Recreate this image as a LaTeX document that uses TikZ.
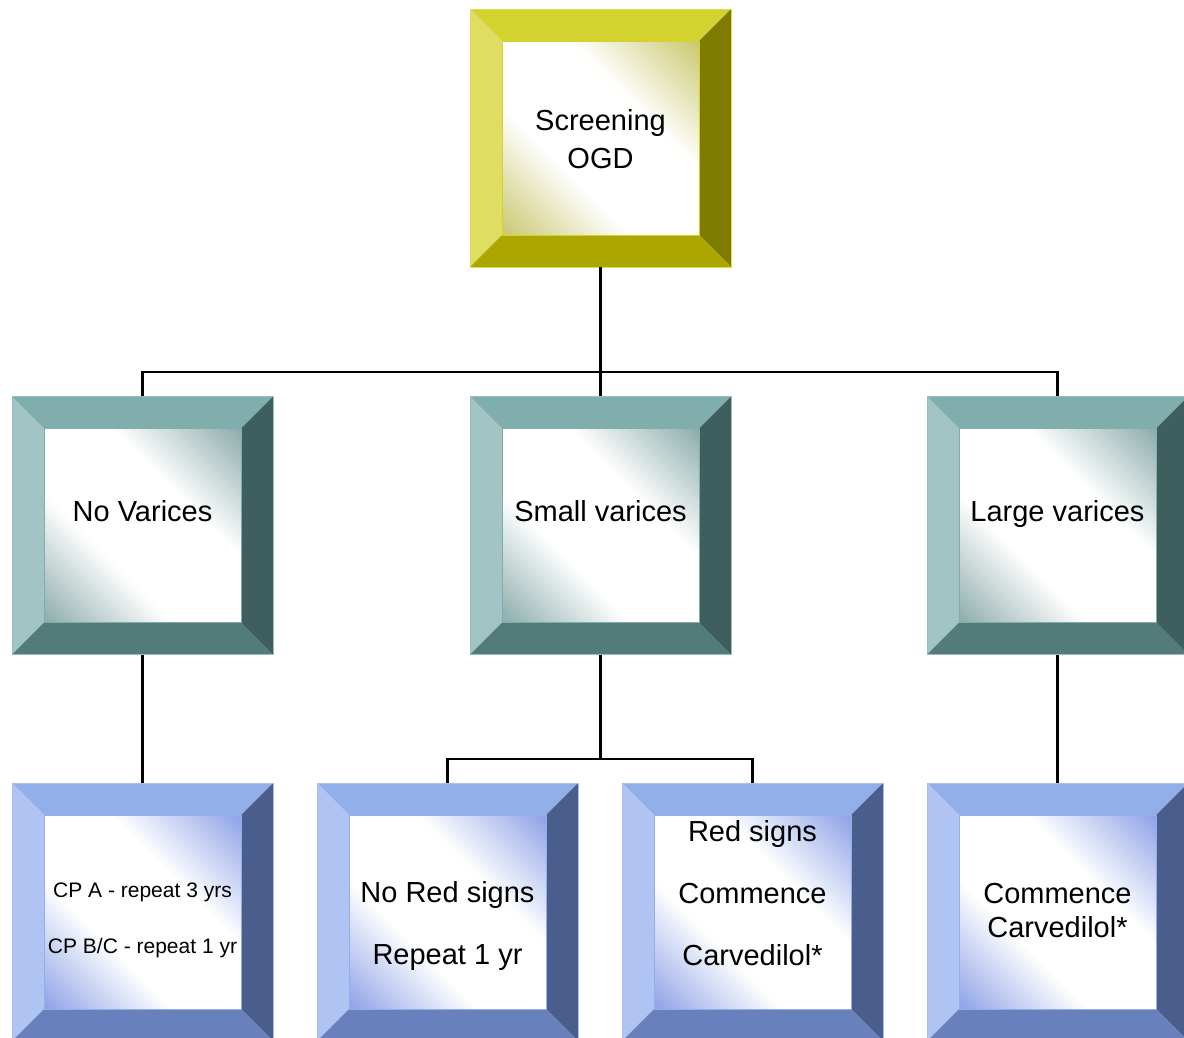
\documentclass[tikz,border=0pt]{standalone}
\usepackage{fontspec}
\setmainfont{Liberation Sans}
\definecolor{yT}{HTML}{D4D22E}
\definecolor{yL}{HTML}{E0DE62}
\definecolor{yR}{HTML}{7F7A00}
\definecolor{yB}{HTML}{ABA600}
\definecolor{yI}{HTML}{C4C260}
\definecolor{gT}{HTML}{80AEAC}
\definecolor{gL}{HTML}{A2C4C4}
\definecolor{gR}{HTML}{3F5F5E}
\definecolor{gB}{HTML}{527B7A}
\definecolor{gI}{HTML}{7FA3A2}
\definecolor{bT}{HTML}{94AEEA}
\definecolor{bL}{HTML}{B0C4F3}
\definecolor{bR}{HTML}{4A5E8E}
\definecolor{bB}{HTML}{6880BC}
\definecolor{bI}{HTML}{8098E4}
\pgfdeclareverticalshading{yshade}{100bp}{color(0bp)=(yI); color(12bp)=(yI); color(38bp)=(white); color(62bp)=(white); color(88bp)=(yI); color(100bp)=(yI)}
\pgfdeclareverticalshading{gshade}{100bp}{color(0bp)=(gI); color(12bp)=(gI); color(38bp)=(white); color(62bp)=(white); color(88bp)=(gI); color(100bp)=(gI)}
\pgfdeclareverticalshading{bshade}{100bp}{color(0bp)=(bI); color(12bp)=(bI); color(38bp)=(white); color(62bp)=(white); color(88bp)=(bI); color(100bp)=(bI)}
\newcommand\bevelbox[3]{% name, center, palette letter
  \node[boxnode] (#1) at #2 {};
  \begin{scope}[shift={#2}]
    \fill[#3T] (-130.5,-129) -- (130.5,-129) -- (98.5,-97) -- (-98.5,-97) -- cycle;
    \fill[#3L] (-130.5,-129) -- (-98.5,-97) -- (-98.5,97) -- (-130.5,129) -- cycle;
    \fill[#3R] (130.5,-129) -- (130.5,129) -- (98.5,97) -- (98.5,-97) -- cycle;
    \fill[#3B] (-130.5,129) -- (-98.5,97) -- (98.5,97) -- (130.5,129) -- cycle;
    \shade[shading=#3shade, shading angle=-45] (-98.5,-97) rectangle (98.5,97);
    \draw[#3T!80!white, line width=0.8pt] (-130.5,-129) rectangle (130.5,129);
    \draw[#3T, line width=0.6pt] (-98.5,-97) rectangle (98.5,97);
  \end{scope}}
\tikzset{
  boxnode/.style={minimum width=261pt, minimum height=258pt, inner sep=0pt, draw=none},
  big/.style={anchor=base, inner sep=0pt, font=\fontsize{29}{34}\selectfont},
  small/.style={anchor=base, inner sep=0pt, font=\fontsize{21}{25}\selectfont},
  conn/.style={draw=black, line width=2.2pt}
}
\begin{document}
\begin{tikzpicture}[x=1pt, y=-1pt]
\useasboundingbox (0,0) rectangle (1184,1037);
\fill[white] (0,0) rectangle (1184,1037);
\clip (0,0) rectangle (1184,1037);
\coordinate (jtop) at (600.5,372);
\coordinate (jmid) at (600.5,759);
\bevelbox{ogd}{(600.5,138)}{y}
\bevelbox{nov}{(142.5,525.5)}{g}
\bevelbox{smv}{(600.5,525.5)}{g}
\bevelbox{lgv}{(1057.5,525.5)}{g}
\bevelbox{cpa}{(142.5,912)}{b}
\bevelbox{nrs}{(447.5,912)}{b}
\bevelbox{rsg}{(752.5,912)}{b}
\bevelbox{car}{(1057.5,912)}{b}
\draw[conn] (ogd.south) -- (jtop);
\draw[conn] (nov.north) |- (jtop) -| (lgv.north);
\draw[conn] (jtop) -- (smv.north);
\draw[conn] (nov.south) -- (cpa.north);
\draw[conn] (lgv.south) -- (car.north);
\draw[conn] (smv.south) -- (jmid);
\draw[conn] (nrs.north) |- (jmid) -| (rsg.north);
\node[big] (t1) at (600.5,130) {Screening};
\node[big] (t2) at (600.5,168) {OGD};
\node[big] (t3) at (142.5,521) {No Varices};
\node[big] (t4) at (600.5,521) {Small varices};
\node[big] (t5) at (1057.5,521) {Large varices};
\node[small] (t6) at (142.5,897) {CP A - repeat 3 yrs};
\node[small] (t7) at (142.5,953) {CP B/C - repeat 1 yr};
\node[big] (t8) at (447.5,902) {No Red signs};
\node[big] (t9) at (447.5,964) {Repeat 1 yr};
\node[big] (t10) at (752.5,841) {Red signs};
\node[big] (t11) at (752.5,903) {Commence};
\node[big] (t12) at (752.5,965) {Carvedilol*};
\node[big] (t13) at (1057.5,903) {Commence};
\node[big] (t14) at (1057.5,937) {Carvedilol*};
\end{tikzpicture}
\end{document}
